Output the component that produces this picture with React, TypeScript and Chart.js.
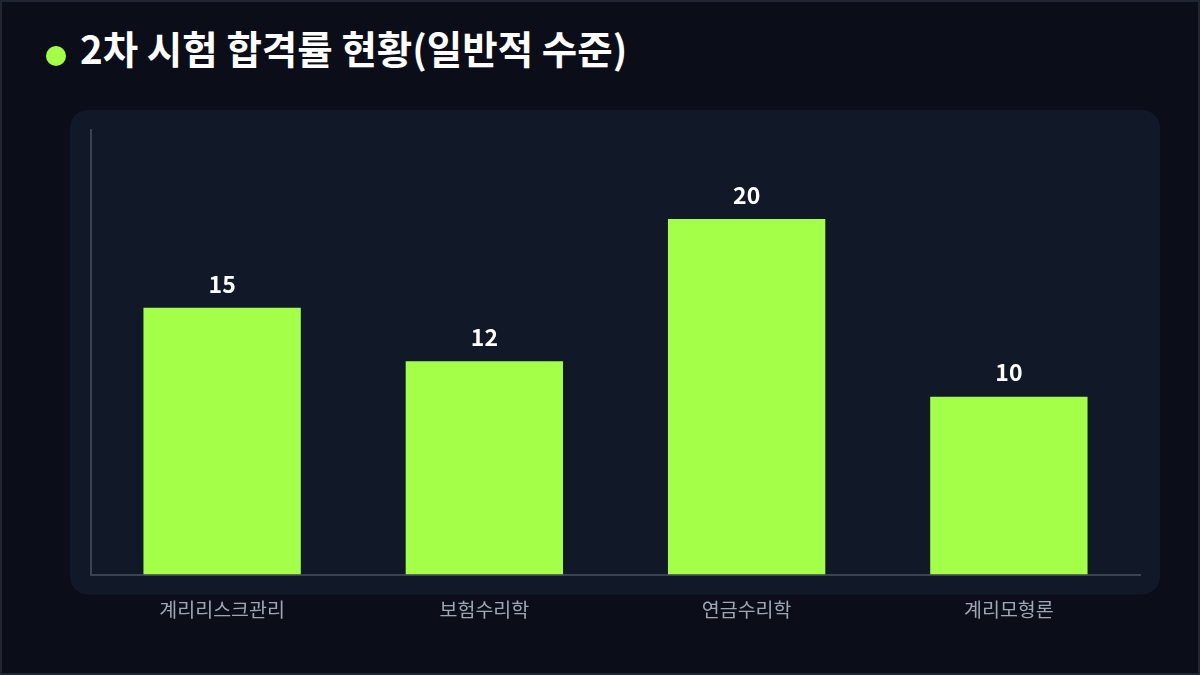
import React, { useEffect, useRef } from "react";
import { Chart, registerables } from "chart.js";

Chart.register(...registerables);

const categories = ["계리리스크관리", "보험수리학", "연금수리학", "계리모형론"];
const passRates = [15, 12, 20, 10];
const titleText = "2차 시험 합격률 현황(일반적 수준)";

const FONT = "'Noto Sans CJK KR', 'Noto Sans', sans-serif";

const panelPlugin = {
  id: "panelBg",
  beforeDraw(chart: any) {
    const { ctx, chartArea } = chart;
    const l = chartArea.left - 21;
    const t = chartArea.top - 20;
    const r = chartArea.right + 20;
    const b = chartArea.bottom + 20;
    ctx.save();
    ctx.fillStyle = "#111827";
    ctx.beginPath();
    ctx.roundRect(l, t, r - l, b - t, 18);
    ctx.fill();
    ctx.restore();
  },
};

const valueLabelPlugin = {
  id: "valueLabels",
  afterDatasetsDraw(chart: any) {
    const { ctx } = chart;
    const meta = chart.getDatasetMeta(0);
    ctx.save();
    ctx.fillStyle = "#ffffff";
    ctx.font = `bold 23px ${FONT}`;
    ctx.textAlign = "center";
    ctx.textBaseline = "middle";
    meta.data.forEach((bar: any, i: number) => {
      ctx.fillText(String(chart.data.datasets[0].data[i]), bar.x, bar.y - 24);
    });
    ctx.restore();
  },
};

export default function App() {
  const canvasRef = useRef<HTMLCanvasElement>(null);

  useEffect(() => {
    document.body.style.margin = "0";
    const chart = new Chart(canvasRef.current!, {
      type: "bar",
      data: {
        labels: categories,
        datasets: [
          {
            data: passRates,
            backgroundColor: "#a3ff47",
            borderWidth: 0,
            barPercentage: 0.6,
            categoryPercentage: 1,
          },
        ],
      },
      options: {
        responsive: false,
        animation: false,
        layout: { padding: { left: 91, right: 60, top: 130, bottom: 31 } },
        plugins: {
          legend: { display: false },
          tooltip: { enabled: false },
          title: { display: false },
        },
        scales: {
          x: {
            grid: { display: false, drawTicks: false },
            border: { display: true, color: "#3a4352", width: 2 },
            ticks: {
              color: "#a0a7b4",
              font: { family: FONT, size: 19.5 },
              padding: 23,
            },
          },
          y: {
            min: 0,
            max: 25,
            grid: { display: false, drawTicks: false },
            border: { display: true, color: "#3a4352", width: 2 },
            ticks: { display: false },
          },
        },
      },
      plugins: [panelPlugin, valueLabelPlugin],
    });
    return () => chart.destroy();
  }, []);

  return (
    <div
      style={{
        position: "fixed",
        left: 0,
        top: 0,
        width: 1200,
        height: 675,
        boxSizing: "border-box",
        border: "2px solid #1f2533",
        background: "#0b0e18",
        overflow: "hidden",
      }}
    >
      <div
        style={{
          position: "absolute",
          left: 44,
          top: 44,
          width: 20,
          height: 20,
          borderRadius: "50%",
          background: "#a3ff47",
        }}
      />
      <div
        style={{
          position: "absolute",
          left: 78,
          top: 21,
          color: "#ffffff",
          fontFamily: FONT,
          fontWeight: 700,
          fontSize: 38.5,
          lineHeight: "48px",
          whiteSpace: "nowrap",
        }}
      >
        {titleText}
      </div>
      <canvas
        ref={canvasRef}
        width={1200}
        height={675}
        style={{ position: "absolute", left: -2, top: -2, width: 1200, height: 675 }}
      />
    </div>
  );
}
